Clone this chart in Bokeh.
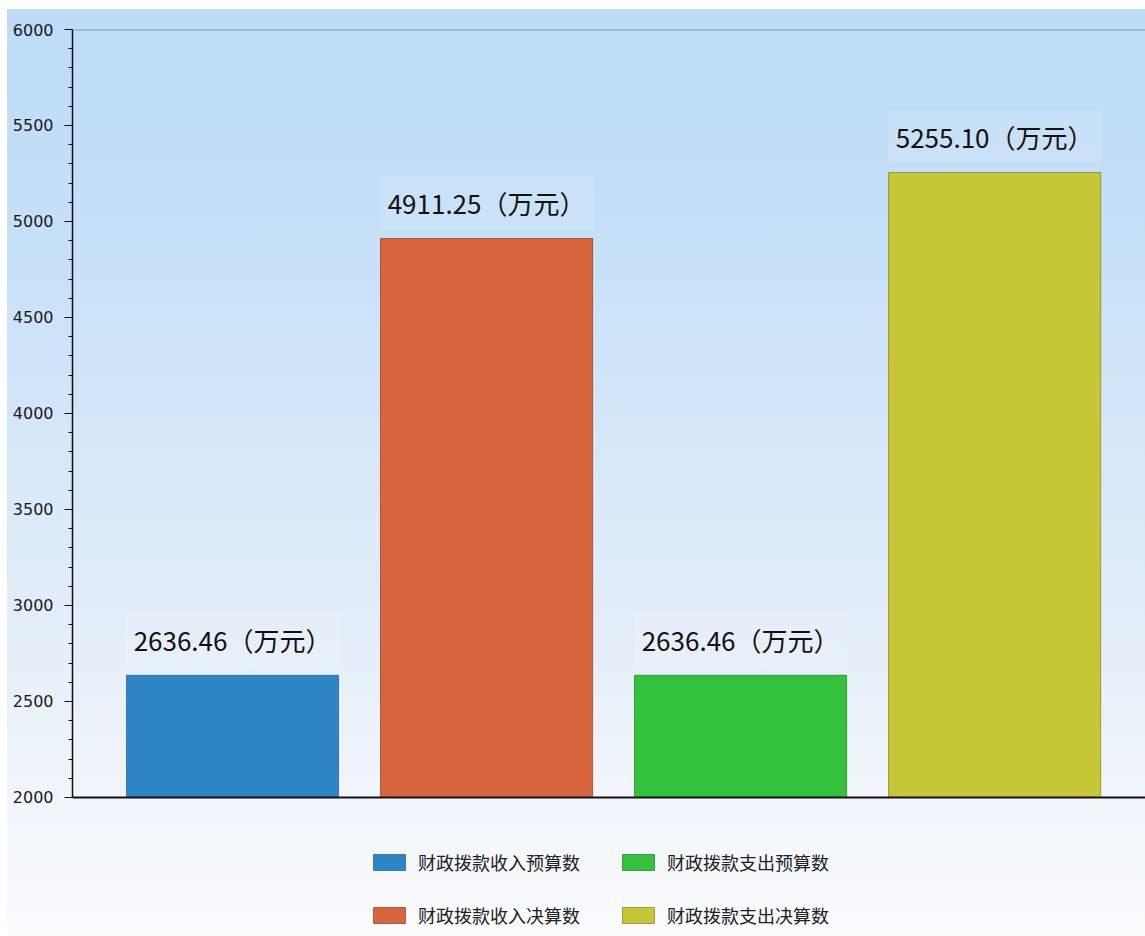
from bokeh.plotting import figure
from bokeh.models import ColumnDataSource, Span, Legend, LegendItem, Range1d, SingleIntervalTicker
from bokeh.core.properties import value
from bokeh.embed import file_html
from bokeh.resources import INLINE

# ---- data ----
categories = ["财政拨款收入预算数", "财政拨款收入决算数", "财政拨款支出预算数", "财政拨款支出决算数"]
values = [2636.46, 4911.25, 2636.46, 5255.10]
unit = "（万元）"
bar_colors = ["#2d84c6", "#d8643e", "#34c23c", "#c7c636"]
edge_colors = ["#1f5f90", "#8e3a1e", "#1f7d26", "#7f7e1e"]
y_min, y_max, y_step = 2000, 6000, 500

xs = list(range(len(categories)))
labels = [f"{v:.2f}{unit}" for v in values]
src = ColumnDataSource(dict(x=xs, top=values, name=categories, color=bar_colors,
                            edge=edge_colors, label=labels))

p = figure(width=1145, height=936,
           x_range=Range1d(-0.63, 3.594), y_range=Range1d(1276, y_max),
           output_backend="svg", toolbar_location=None, x_axis_location=None,
           min_border_left=72, min_border_right=0, min_border_top=29, min_border_bottom=0)
p.grid.visible = False
p.outline_line_color = None
p.background_fill_color = None
p.border_fill_color = None
p.styles = {
    "background-image": "linear-gradient(to bottom, #bddcf7 0%, #c6e0f8 25%, #d8e8f9 50%, #e6eff9 70%, #f1f5fb 85%, #fafbfd 100%)",
    "background-repeat": "no-repeat",
    "background-position": "7px 9px",
    "background-size": "calc(100% - 7px) calc(100% - 9px)",
    "background-color": "#ffffff",
}

r = p.vbar(x="x", top="top", bottom=y_min, width=0.835, fill_color="color",
           line_color="edge", line_width=1, line_alpha=0.7, source=src)

p.text(x="x", y="top", text="label", source=src, text_align="center",
       text_baseline="middle", y_offset=-36, text_font=value("Noto Sans CJK SC"),
       text_font_size="26px", text_color="#111111",
       background_fill_color="#ffffff", background_fill_alpha=0.1, padding=8)

p.add_layout(Span(location=y_max, dimension="width", line_color="#7b9ac0", line_width=2))
p.add_layout(Span(location=y_min, dimension="width", line_color="#111111", line_width=2))

ax = p.yaxis[0]
ax.ticker = SingleIntervalTicker(interval=y_step, num_minor_ticks=5)
ax.bounds = (y_min, y_max)
ax.axis_line_color = "#111111"
ax.axis_line_width = 1.5
ax.major_tick_out = 8
ax.major_tick_in = 0
ax.minor_tick_out = 4
ax.minor_tick_in = 0
ax.major_tick_line_color = "#111111"
ax.minor_tick_line_color = "#111111"
ax.major_label_standoff = 11
ax.major_label_text_font = "DejaVu Sans"
ax.major_label_text_font_size = "16px"
ax.major_label_text_color = "#1a1a1a"

items = [LegendItem(label=categories[i], renderers=[r], index=i) for i in range(len(categories))]
legend = Legend(items=items, location=(297, 8), orientation="vertical", nrows=2,
                glyph_width=40, glyph_height=20, label_standoff=9, label_width=173,
                label_height=20, spacing=27, padding=0, margin=0,
                border_line_color=None, background_fill_alpha=0,
                label_text_font="Noto Sans CJK SC", label_text_font_size="18px",
                label_text_color="#222222")
p.add_layout(legend)

open("out.html", "w").write(file_html(p, INLINE))
